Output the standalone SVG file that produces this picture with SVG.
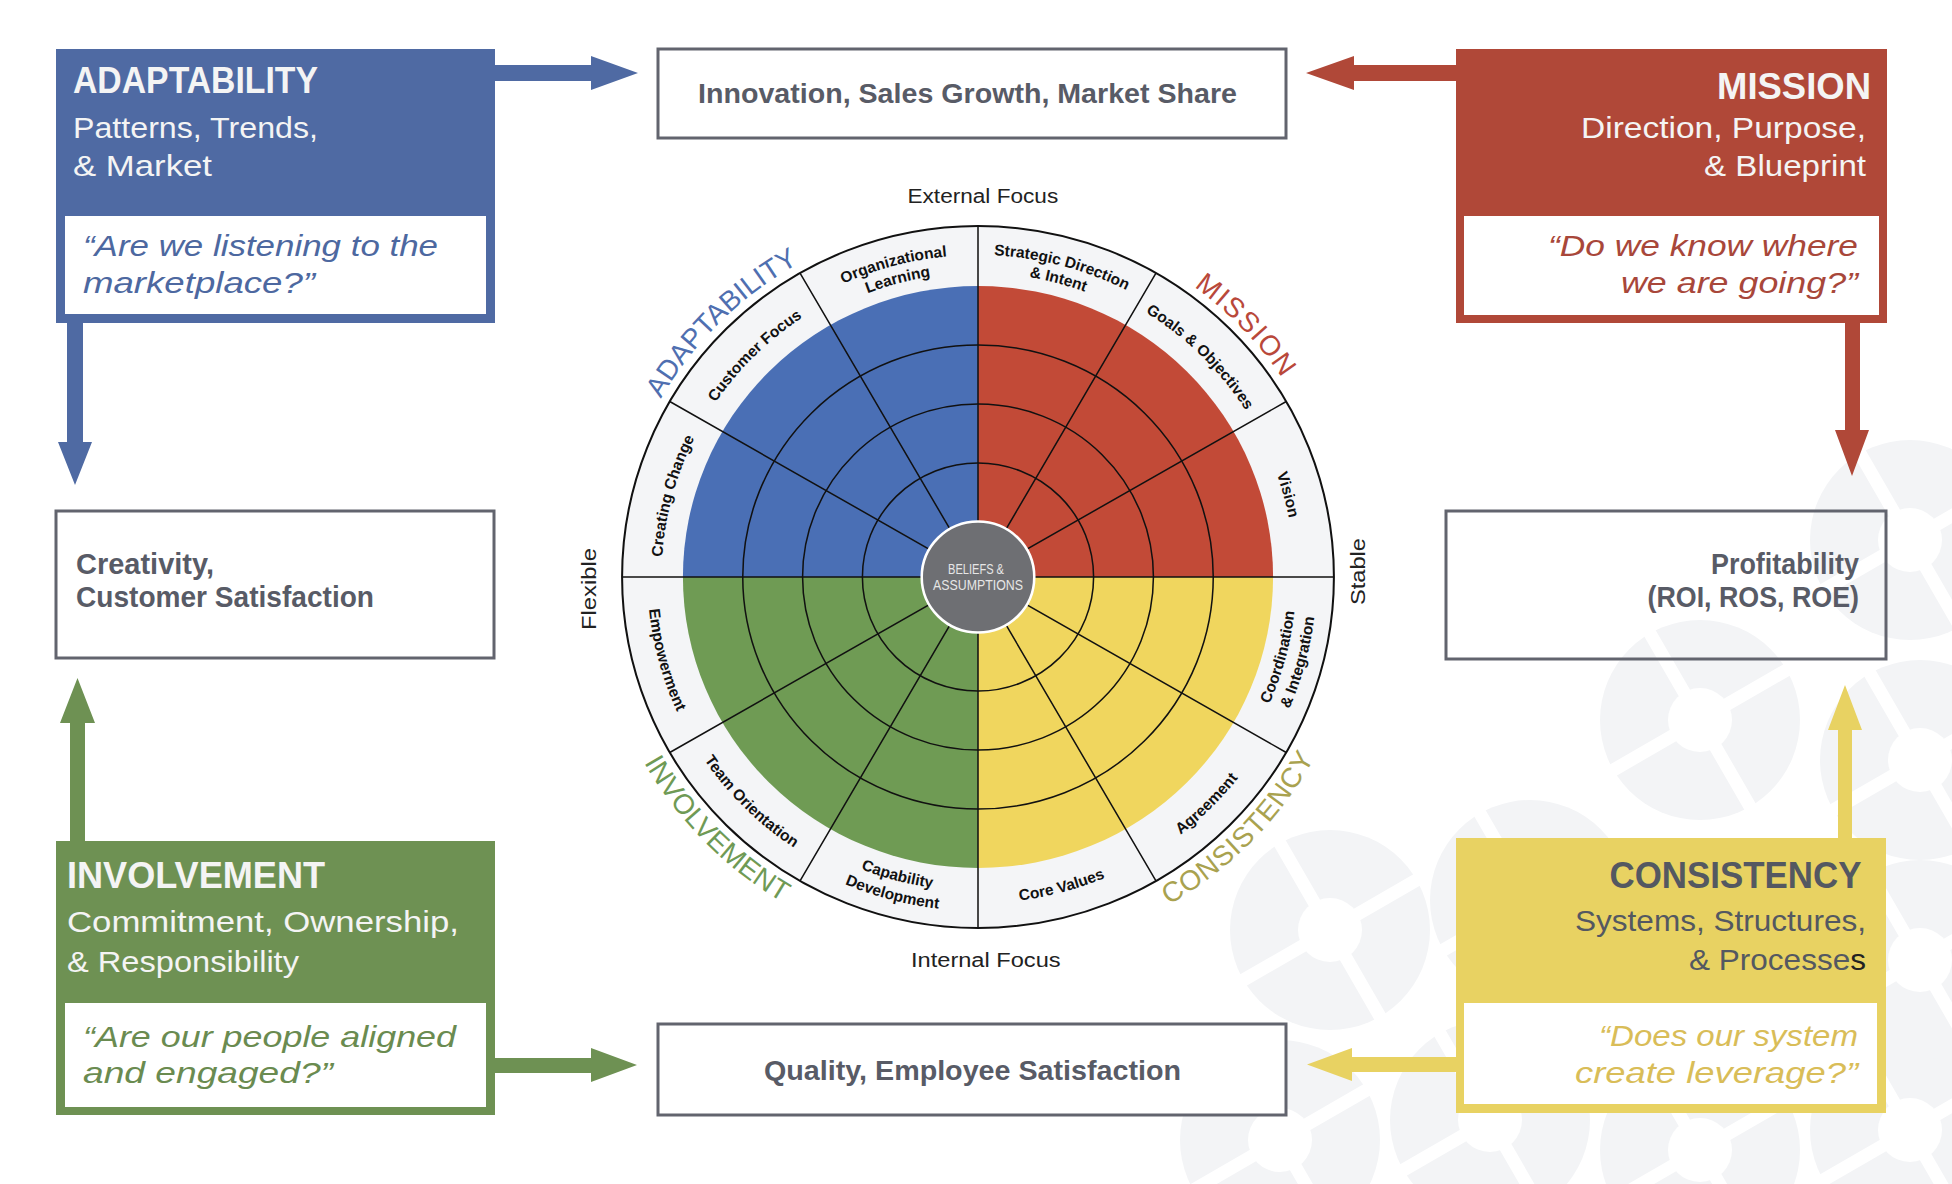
<svg xmlns="http://www.w3.org/2000/svg" width="1952" height="1184" viewBox="0 0 1952 1184">
<defs>
<style>
text{font-family:"Liberation Sans",Arial,sans-serif;}
.t{font-weight:700;font-size:36px;fill:#f4f4f4;}
.s{font-size:29px;fill:#f4f4f4;}
.q{font-style:italic;font-size:29px;}
.o{font-weight:700;font-size:29px;fill:#585b66;}
.o2{font-weight:700;font-size:27px;fill:#585b66;}
.seg{font-weight:700;font-size:15.5px;fill:#111;}
.big{font-size:28px;}
.ax{font-size:20px;fill:#222;}
.ring{fill:none;stroke:#111;stroke-width:1.5;}
.ob{fill:#fff;stroke:#62646e;stroke-width:3;}
</style>
<g id="donut"><circle r="100" fill="#f3f4f6"/><circle r="32" fill="#fff"/><path d="M-112 0H112M0 -112V112" stroke="#fff" stroke-width="13" transform="rotate(-30)"/></g>
<path id="pVis" d="M1159.5 321.4 A316.4 312 0 0 1 1264.8 708.9"/>
<path id="pGoa" d="M1005.6 266.2 A316.4 312 0 0 1 1293.2 549.8"/>
<path id="pCus" d="M662.8 549.8 A316.4 312 0 0 1 950.4 266.2"/>
<path id="pCre" d="M691.2 708.9 A316.4 312 0 0 1 796.5 321.4"/>
<path id="pStr1" d="M840 285.2 A326.5 322 0 0 1 1245.5 392.3"/>
<path id="pStr2" d="M847.7 301.5 A308.3 304 0 0 1 1230.6 402.6"/>
<path id="pOrg1" d="M710.5 392.3 A326.5 322 0 0 1 1116 285.2"/>
<path id="pOrg2" d="M725.4 402.6 A308.3 304 0 0 1 1108.3 301.5"/>
<path id="pEmp" d="M678.4 439.2 A330.6 326 0 0 0 788.4 844.1"/>
<path id="pTea" d="M648.7 605.4 A330.6 326 0 0 0 949.2 901.8"/>
<path id="pCor" d="M838.3 872.5 A330.6 326 0 0 0 1248.8 764"/>
<path id="pAgr" d="M1006.8 901.8 A330.6 326 0 0 0 1307.3 605.4"/>
<path id="pCap1" d="M717.2 757.1 A318.4 314 0 0 0 1112.6 861.6"/>
<path id="pCap2" d="M700.5 768.6 A338.7 334 0 0 0 1121.1 879.7"/>
<path id="pCoo1" d="M1160.6 834.2 A318.4 314 0 0 0 1266.6 444.3"/>
<path id="pCoo2" d="M1172.3 850.6 A338.7 334 0 0 0 1285 435.9"/>
<path id="pAda" d="M614.4 545.6 A365 360 0 0 1 946.2 218.4"/>
<path id="pMis" d="M1009.8 218.4 A365 360 0 0 1 1341.6 545.6"/>
<path id="pInv" d="M596.2 610 A383.3 378 0 0 0 944.6 953.6"/>
<path id="pCon" d="M1011.4 953.6 A383.3 378 0 0 0 1359.8 610"/>
</defs>
<rect width="1952" height="1184" fill="#fff"/>
<g id="background-pattern">
<use href="#donut" x="1910" y="540"/>
<use href="#donut" x="1700" y="720"/>
<use href="#donut" x="1920" y="760"/>
<use href="#donut" x="1330" y="930"/>
<use href="#donut" x="1530" y="900"/>
<use href="#donut" x="1280" y="1140"/>
<use href="#donut" x="1490" y="1120"/>
<use href="#donut" x="1700" y="1150"/>
<use href="#donut" x="1910" y="1130"/>
<use href="#donut" x="1920" y="960"/>
</g>
<g id="connectors">
<polygon fill="#4f6aa3" points="494,65 591,65 591,56 638,73 591,90 591,81 494,81"/>
<polygon fill="#4f6aa3" points="67,322 83,322 83,442 92,442 75,485 58,442 67,442"/>
<polygon fill="#b04838" points="1456,65 1354,65 1354,56 1306,73 1354,90 1354,81 1456,81"/>
<polygon fill="#b04838" points="1845,322 1860,322 1860,430 1869,430 1852,476 1835,430 1845,430"/>
<polygon fill="#6e9153" points="70,842 85,842 85,723 95,723 77.5,678 60,723 70,723"/>
<polygon fill="#6e9153" points="494,1058 591,1058 591,1048 637,1065 591,1082 591,1073 494,1073"/>
<polygon fill="#e8d262" points="1838,839 1852,839 1852,730 1862,730 1845,685 1828,730 1838,730"/>
<polygon fill="#e8d262" points="1456,1057 1352,1057 1352,1048 1307,1064.5 1352,1081 1352,1072 1456,1072"/>
</g>
<g id="adaptability">
<rect x="56" y="49" width="439" height="274" fill="#4f6aa3"/>
<rect x="65" y="216" width="421" height="98" fill="#fff"/>
<text class="t" x="73" y="93" textLength="245" lengthAdjust="spacingAndGlyphs">ADAPTABILITY</text>
<text class="s" x="73" y="138" textLength="245" lengthAdjust="spacingAndGlyphs">Patterns, Trends,</text>
<text class="s" x="73" y="176" textLength="139" lengthAdjust="spacingAndGlyphs">&amp; Market</text>
<text class="q" fill="#4d68a0" x="83" y="256" textLength="355" lengthAdjust="spacingAndGlyphs">“Are we listening to the</text>
<text class="q" fill="#4d68a0" x="83" y="293" textLength="232" lengthAdjust="spacingAndGlyphs">marketplace?”</text>
</g>
<g id="mission">
<rect x="1456" y="49" width="431" height="274" fill="#b04838"/>
<rect x="1464" y="216" width="415" height="99" fill="#fff"/>
<text class="t" x="1717" y="99" textLength="154" lengthAdjust="spacingAndGlyphs">MISSION</text>
<text class="s" x="1581" y="138" textLength="285" lengthAdjust="spacingAndGlyphs">Direction, Purpose,</text>
<text class="s" x="1704" y="176" textLength="162" lengthAdjust="spacingAndGlyphs">&amp; Blueprint</text>
<text class="q" fill="#a8473a" x="1548" y="256" textLength="310" lengthAdjust="spacingAndGlyphs">“Do we know where</text>
<text class="q" fill="#a8473a" x="1621" y="293" textLength="237" lengthAdjust="spacingAndGlyphs">we are going?”</text>
</g>
<g id="involvement">
<rect x="56" y="841" width="439" height="274" fill="#6e9153"/>
<rect x="65" y="1003" width="421" height="104" fill="#fff"/>
<text class="t" x="67" y="888" textLength="258" lengthAdjust="spacingAndGlyphs">INVOLVEMENT</text>
<text class="s" x="67" y="932" textLength="392" lengthAdjust="spacingAndGlyphs">Commitment, Ownership,</text>
<text class="s" x="67" y="972" textLength="232" lengthAdjust="spacingAndGlyphs">&amp; Responsibility</text>
<text class="q" fill="#6a8b50" x="83" y="1047" textLength="373" lengthAdjust="spacingAndGlyphs">“Are our people aligned</text>
<text class="q" fill="#6a8b50" x="83" y="1083" textLength="250" lengthAdjust="spacingAndGlyphs">and engaged?”</text>
</g>
<g id="consistency">
<rect x="1456" y="838" width="430" height="275" fill="#e8d262"/>
<rect x="1464" y="1003" width="413" height="101" fill="#fff"/>
<text class="t" style="fill:#545861" x="1609.5" y="888" textLength="252" lengthAdjust="spacingAndGlyphs">CONSISTENCY</text>
<text class="s" style="fill:#545861" x="1575" y="931" textLength="291" lengthAdjust="spacingAndGlyphs">Systems, Structures,</text>
<text class="s" style="fill:#545861" x="1689" y="970" textLength="177" lengthAdjust="spacingAndGlyphs">&amp; Processe<tspan style="fill:#222">s</tspan></text>
<text class="q" fill="#d9bd58" x="1599" y="1046" textLength="259" lengthAdjust="spacingAndGlyphs">“Does our system</text>
<text class="q" fill="#d9bd58" x="1575" y="1083" textLength="283" lengthAdjust="spacingAndGlyphs">create leverage?”</text>
</g>
<g id="innovation">
<rect class="ob" x="658" y="49" width="628" height="89"/>
<text class="o2" x="698" y="103" textLength="539" lengthAdjust="spacingAndGlyphs">Innovation, Sales Growth, Market Share</text>
</g>
<g id="quality">
<rect class="ob" x="658" y="1024" width="628" height="91"/>
<text class="o2" x="764" y="1080" textLength="417" lengthAdjust="spacingAndGlyphs">Quality, Employee Satisfaction</text>
</g>
<g id="creativity">
<rect class="ob" x="56" y="511" width="438" height="147"/>
<text class="o" x="76" y="574" textLength="138" lengthAdjust="spacingAndGlyphs">Creativity,</text>
<text class="o" x="76" y="607" textLength="298" lengthAdjust="spacingAndGlyphs">Customer Satisfaction</text>
</g>
<g id="profitability">
<rect class="ob" style="fill:none" x="1446" y="511" width="440" height="148"/>
<text class="o" x="1711" y="574" textLength="148" lengthAdjust="spacingAndGlyphs">Profitability</text>
<text class="o" x="1647.5" y="607" textLength="211.5" lengthAdjust="spacingAndGlyphs">(ROI, ROS, ROE)</text>
</g>
<g id="wheel">
<g transform="translate(978 577) scale(1.014 1)">
<circle r="351" fill="#f4f5f7" stroke="#111" stroke-width="2"/>
<path d="M0 0L-291 0A291 291 0 0 1 0 -291Z" fill="#4a6fb5"/>
<path d="M0 0L0 -291A291 291 0 0 1 291 0Z" fill="#c24a37"/>
<path d="M0 0L291 0A291 291 0 0 1 0 291Z" fill="#f0d65e"/>
<path d="M0 0L0 291A291 291 0 0 1 -291 0Z" fill="#6f9b54"/>
<circle class="ring" r="114"/>
<circle class="ring" r="173"/>
<circle class="ring" r="232"/>
<path class="ring" d="M-351 0H351M303.98 -175.5L-303.98 175.5M175.5 -303.98L-175.5 303.98M0 -351V351M-175.5 -303.98L175.5 303.98M-303.98 -175.5L303.98 175.5"/>
<circle r="55.5" fill="#6e6f73" stroke="#fff" stroke-width="2.5"/>
</g>
<text style="font-size:14px;fill:#e6e6e6" x="948" y="574" textLength="56" lengthAdjust="spacingAndGlyphs">BELIEFS &amp;</text>
<text style="font-size:14px;fill:#e6e6e6" x="933" y="590" textLength="90" lengthAdjust="spacingAndGlyphs">ASSUMPTIONS</text>
<g class="seglabels">
<text class="seg"><textPath href="#pVis" startOffset="50%" text-anchor="middle">Vision</textPath></text>
<text class="seg"><textPath href="#pGoa" startOffset="50%" text-anchor="middle">Goals &amp; Objectives</textPath></text>
<text class="seg"><textPath href="#pCus" startOffset="50%" text-anchor="middle">Customer Focus</textPath></text>
<text class="seg"><textPath href="#pCre" startOffset="50%" text-anchor="middle">Creating Change</textPath></text>
<text class="seg"><textPath href="#pStr1" startOffset="50%" text-anchor="middle">Strategic Direction</textPath></text>
<text class="seg"><textPath href="#pStr2" startOffset="50%" text-anchor="middle">&amp; Intent</textPath></text>
<text class="seg"><textPath href="#pOrg1" startOffset="50%" text-anchor="middle">Organizational</textPath></text>
<text class="seg"><textPath href="#pOrg2" startOffset="50%" text-anchor="middle">Learning</textPath></text>
<text class="seg"><textPath href="#pEmp" startOffset="50%" text-anchor="middle">Empowerment</textPath></text>
<text class="seg"><textPath href="#pTea" startOffset="50%" text-anchor="middle">Team Orientation</textPath></text>
<text class="seg"><textPath href="#pCor" startOffset="50%" text-anchor="middle">Core Values</textPath></text>
<text class="seg"><textPath href="#pAgr" startOffset="50%" text-anchor="middle">Agreement</textPath></text>
<text class="seg"><textPath href="#pCap1" startOffset="50%" text-anchor="middle">Capability</textPath></text>
<text class="seg"><textPath href="#pCap2" startOffset="50%" text-anchor="middle">Development</textPath></text>
<text class="seg"><textPath href="#pCoo1" startOffset="50%" text-anchor="middle">Coordination</textPath></text>
<text class="seg"><textPath href="#pCoo2" startOffset="50%" text-anchor="middle">&amp; Integration</textPath></text>
</g>
<text class="big" fill="#4f6fb0"><textPath href="#pAda" startOffset="50%" text-anchor="middle">ADAPTABILITY</textPath></text>
<text class="big" fill="#b9483a" style="letter-spacing:1.5px"><textPath href="#pMis" startOffset="52%" text-anchor="middle">MISSION</textPath></text>
<text class="big" fill="#6f9a55"><textPath href="#pInv" startOffset="49%" text-anchor="middle">INVOLVEMENT</textPath></text>
<text class="big" fill="#a9a24f" style="letter-spacing:0.7px"><textPath href="#pCon" startOffset="51%" text-anchor="middle">CONSISTENCY</textPath></text>
<text class="ax" x="907.5" y="203" textLength="150.7" lengthAdjust="spacingAndGlyphs">External Focus</text>
<text class="ax" x="911" y="967" textLength="149.6" lengthAdjust="spacingAndGlyphs">Internal Focus</text>
<text class="ax" transform="translate(596 589) rotate(-90)" x="-41" y="0" textLength="82" lengthAdjust="spacingAndGlyphs">Flexible</text>
<text class="ax" transform="translate(1365 571.5) rotate(-90)" x="-33.5" y="0" textLength="67" lengthAdjust="spacingAndGlyphs">Stable</text>
</g>
</svg>
